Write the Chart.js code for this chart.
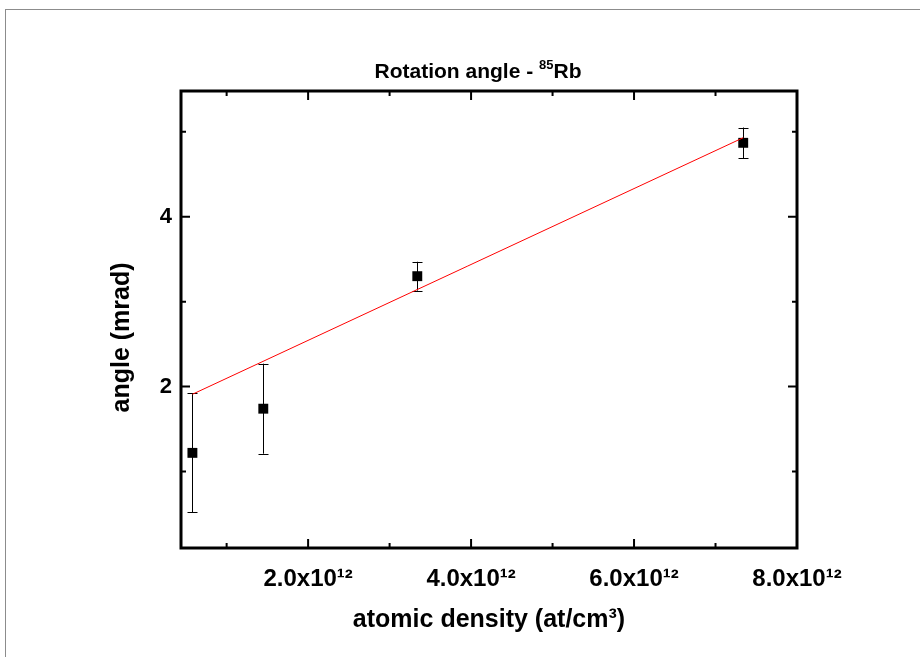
<!DOCTYPE html>
<html>
<head>
<meta charset="utf-8">
<script src="https://cdn.jsdelivr.net/npm/chart.js@4.4.0/dist/chart.umd.min.js"></script>
<style>
	html, body { margin: 0; padding: 0; background: #fff; }
	#wrap { position: relative; width: 920px; height: 657px; overflow: hidden; }
	#frame { position: absolute; left: 5px; top: 9px; width: 930px; height: 660px;
		border-top: 1px solid #8c8c8c; border-left: 1px solid #8c8c8c; }
	#chart { position: absolute; left: 0; top: 0; }
</style>
</head>
<body>
<div id="wrap">
	<div id="frame"></div>
	<canvas id="chart" width="920" height="657"></canvas>
</div>
<script>
// measured points (x in at/cm3, y in mrad)
const density = [5.8e11, 1.45e12, 3.34e12, 7.34e12];
const angle = [1.22, 1.74, 3.30, 4.87];
const angleErr = [0.70, 0.53, 0.17, 0.18];

// linear fit, end points
const fitX = [5.8e11, 7.34e12];
const fitY = [1.91, 4.93];

// axis ticks
const xTickValues = [2e12, 4e12, 6e12, 8e12];
const xTickLabels = ['2.0x10¹²', '4.0x10¹²', '6.0x10¹²', '8.0x10¹²'];
const xMinorTicks = [1e12, 3e12, 5e12, 7e12];
const yTickValues = [2, 4];
const yTickLabels = ['2', '4'];
const yMinorTicks = [1, 3, 5];

const yTitle = 'angle (mrad)';

const FONT = "'Liberation Sans', Arial, sans-serif";

// error bars, inward ticks, frame, title and y axis title
const decorations = {
	id: 'decorations',
	beforeDatasetsDraw(chart) {
		const ctx = chart.ctx;
		const xs = chart.scales.x;
		const ys = chart.scales.y;
		ctx.save();
		ctx.strokeStyle = '#000';
		ctx.lineWidth = 1;
		for (let i = 0; i < density.length; i++) {
			const px = Math.round(xs.getPixelForValue(density[i])) + 0.5;
			const top = ys.getPixelForValue(angle[i] + angleErr[i]);
			const bot = ys.getPixelForValue(angle[i] - angleErr[i]);
			ctx.beginPath();
			ctx.moveTo(px, top);
			ctx.lineTo(px, bot);
			ctx.moveTo(px - 5, Math.round(top) + 0.5);
			ctx.lineTo(px + 5, Math.round(top) + 0.5);
			ctx.moveTo(px - 5, Math.round(bot) + 0.5);
			ctx.lineTo(px + 5, Math.round(bot) + 0.5);
			ctx.stroke();
		}
		ctx.restore();
	},
	afterDraw(chart) {
		const ctx = chart.ctx;
		const a = chart.chartArea;
		const xs = chart.scales.x;
		const ys = chart.scales.y;
		ctx.save();
		ctx.strokeStyle = '#000';
		ctx.lineWidth = 2;
		ctx.beginPath();
		const tick = (vals, len) => {
			for (const v of vals) {
				const px = xs.getPixelForValue(v);
				ctx.moveTo(px, a.bottom);
				ctx.lineTo(px, a.bottom - len);
				ctx.moveTo(px, a.top);
				ctx.lineTo(px, a.top + len);
			}
		};
		const ytick = (vals, len) => {
			for (const v of vals) {
				const py = ys.getPixelForValue(v);
				ctx.moveTo(a.left, py);
				ctx.lineTo(a.left + len, py);
				ctx.moveTo(a.right, py);
				ctx.lineTo(a.right - len, py);
			}
		};
		tick(xTickValues, 9);
		tick(xMinorTicks, 5);
		ytick(yTickValues, 9);
		ytick(yMinorTicks, 5);
		ctx.stroke();

		ctx.lineWidth = 3;
		ctx.strokeRect(a.left, a.top, a.right - a.left, a.bottom - a.top);

		ctx.fillStyle = '#000';

		// title with superscript mass number
		const big = 'bold 21px ' + FONT;
		const small = 'bold 13px ' + FONT;
		const t1 = 'Rotation angle - ';
		const t2 = '85';
		const t3 = 'Rb';
		ctx.font = big;
		const w1 = ctx.measureText(t1).width;
		const w3 = ctx.measureText(t3).width;
		ctx.font = small;
		const w2 = ctx.measureText(t2).width;
		const total = w1 + w2 + w3;
		let x = (a.left + a.right) / 2 - total / 2 - 11;
		const base = 78;
		ctx.textBaseline = 'alphabetic';
		ctx.textAlign = 'left';
		ctx.font = big;
		ctx.fillText(t1, x, base);
		x += w1;
		ctx.font = small;
		ctx.fillText(t2, x, base - 9);
		x += w2;
		ctx.font = big;
		ctx.fillText(t3, x, base);

		// y axis title, sits a little below the middle of the axis
		ctx.translate(122, (a.top + a.bottom) / 2 + 18);
		ctx.rotate(-Math.PI / 2);
		ctx.textAlign = 'center';
		ctx.textBaseline = 'middle';
		ctx.font = 'bold 25px ' + FONT;
		ctx.fillText(yTitle, 0, 0);
		ctx.restore();
	}
};

function tickLabel(values, labels) {
	return (v) => {
		const i = values.indexOf(v);
		return i >= 0 ? labels[i] : '';
	};
}

new Chart(document.getElementById('chart').getContext('2d'), {
	type: 'scatter',
	data: {
		datasets: [
			{
				type: 'line',
				data: fitX.map((x, i) => ({x: x, y: fitY[i]})),
				borderColor: '#ff0000',
				borderWidth: 1,
				pointRadius: 0,
				fill: false,
			},
			{
				data: density.map((x, i) => ({x: x, y: angle[i]})),
				pointStyle: 'rect',
				pointRadius: 7,
				backgroundColor: '#000',
				borderWidth: 0,
			},
		],
	},
	options: {
		responsive: false,
		animation: false,
		layout: {
			padding: {left: 0, right: 123, top: 91, bottom: 0},
		},
		plugins: {
			legend: {display: false},
			tooltip: {enabled: false},
		},
		scales: {
			x: {
				type: 'linear',
				min: 4.4e11,
				max: 8.0e12,
				grid: {display: false, drawTicks: false},
				border: {display: false},
				afterBuildTicks(scale) {
					scale.ticks = xTickValues.map((v) => ({value: v}));
				},
				afterFit(scale) {
					scale.height = 109;
				},
				ticks: {
					autoSkip: false,
					maxRotation: 0,
					padding: 17,
					color: '#000',
					font: {family: FONT, size: 24, weight: 'bold'},
					callback: tickLabel(xTickValues, xTickLabels),
				},
				title: {
					display: true,
					text: 'atomic density (at/cm³)',
					color: '#000',
					font: {family: FONT, size: 25, weight: 'bold'},
					padding: {top: 0, bottom: 22},
				},
			},
			y: {
				min: 0.1,
				max: 5.48,
				grid: {display: false, drawTicks: false},
				border: {display: false},
				afterBuildTicks(scale) {
					scale.ticks = yTickValues.map((v) => ({value: v}));
				},
				afterFit(scale) {
					scale.width = 181;
				},
				ticks: {
					autoSkip: false,
					padding: 9,
					color: '#000',
					font: {family: FONT, size: 22, weight: 'bold'},
					callback: tickLabel(yTickValues, yTickLabels),
				},
			},
		},
	},
	plugins: [decorations],
});
</script>
</body>
</html>
